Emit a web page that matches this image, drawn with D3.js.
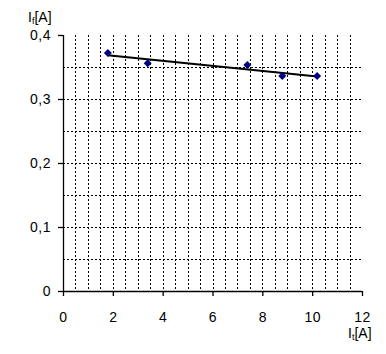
<!DOCTYPE html>
<html>
<head>
<meta charset="utf-8">
<script src="https://cdn.jsdelivr.net/npm/d3@7"></script>
<style>
  body { margin: 0; background: #fff; }
  text { font-family: "Liberation Sans", Arial, sans-serif; font-size: 14px; fill: #000; }
</style>
</head>
<body>
<svg width="386" height="354"></svg>
<script>
// measured points
var xVals = [1.8, 3.4, 7.4, 8.8, 10.2];
var yVals = [0.372, 0.356, 0.353, 0.336, 0.336];
var xTicks = [0, 2, 4, 6, 8, 10, 12];
var yTicks = [0, 0.1, 0.2, 0.3, 0.4];

var svg = d3.select("svg"),
  margin = { top: 35, right: 24, bottom: 63, left: 63 },
  width = +svg.attr("width") - margin.left - margin.right,
  height = +svg.attr("height") - margin.top - margin.bottom;

var x = d3.scaleLinear().domain([0, 12]).range([0, width]);
var y = d3.scaleLinear().domain([0, 0.4]).range([height, 0]);

var g = svg.append("g")
  .attr("transform", "translate(" + margin.left + "," + margin.top + ")");

// dotted grid
g.selectAll(".vgrid")
  .data(d3.range(1, 24).map(function(i) { return i * 0.5; }))
  .enter().append("line")
  .attr("x1", function(d) { return Math.round(x(d)) + 0.5; })
  .attr("x2", function(d) { return Math.round(x(d)) + 0.5; })
  .attr("y1", 0)
  .attr("y2", height)
  .attr("stroke", "#000")
  .attr("stroke-width", 1)
  .attr("stroke-dasharray", "2,2");

g.selectAll(".hgrid")
  .data(d3.range(1, 8).map(function(i) { return i * 0.05; }))
  .enter().append("line")
  .attr("x1", 0)
  .attr("x2", width)
  .attr("y1", function(d) { return Math.round(y(d)) + 0.5; })
  .attr("y2", function(d) { return Math.round(y(d)) + 0.5; })
  .attr("stroke", "#000")
  .attr("stroke-width", 1)
  .attr("stroke-dasharray", "2,2");

// axes
var fmt = function(d) { return String(d3.format(".1~f")(d)).replace(".", ","); };

var xAxis = g.append("g")
  .attr("transform", "translate(0," + height + ")")
  .call(d3.axisBottom(x).tickValues(xTicks).tickSize(5).tickPadding(16).tickFormat(d3.format("d")));

var yAxis = g.append("g")
  .call(d3.axisLeft(y).tickValues(yTicks).tickSize(5).tickPadding(7).tickFormat(fmt));

[xAxis, yAxis].forEach(function(a) {
  a.select(".domain").attr("stroke", "#000").attr("stroke-width", 1.3);
  a.selectAll(".tick line").attr("stroke", "#000").attr("stroke-width", 1.3);
  a.selectAll("text")
    .style("font-family", "'Liberation Sans', Arial, sans-serif")
    .style("font-size", "14px")
    .style("letter-spacing", "0.5px");
});
xAxis.select(".domain").attr("d", "M0,0.5H" + width);
yAxis.select(".domain").attr("d", "M0.5,0V" + height);

// linear trend line
var pts = xVals.map(function(d, i) { return [d, yVals[i]]; });
var mx = d3.mean(xVals), my = d3.mean(yVals);
var slope = d3.sum(pts, function(p) { return (p[0] - mx) * (p[1] - my); }) /
            d3.sum(xVals, function(d) { return (d - mx) * (d - mx); });
var icpt = my - slope * mx;
var xr = d3.extent(xVals);

g.append("path")
  .datum(xr.map(function(d) { return [d, icpt + slope * d]; }))
  .attr("fill", "none")
  .attr("stroke", "#000")
  .attr("stroke-width", 2)
  .attr("d", d3.line().x(function(d) { return x(d[0]); }).y(function(d) { return y(d[1]); }));

// diamond markers
g.selectAll(".pt")
  .data(pts)
  .enter().append("path")
  .attr("transform", function(d) { return "translate(" + x(d[0]) + "," + y(d[1]) + ")"; })
  .attr("d", "M0,-4L4,0L0,4L-4,0Z")
  .attr("fill", "#000080");

// axis titles
var yt = svg.append("text").attr("x", 28).attr("y", 22);
yt.append("tspan").text("I");
yt.append("tspan").attr("dy", 2).style("font-size", "9px").text("f");
yt.append("tspan").attr("dy", -2).text("[A]");

var xt = svg.append("text").attr("x", 348).attr("y", 338);
xt.append("tspan").text("I");
xt.append("tspan").attr("dy", 2).style("font-size", "9px").text("t");
xt.append("tspan").attr("dy", -2).text("[A]");
</script>
</body>
</html>
